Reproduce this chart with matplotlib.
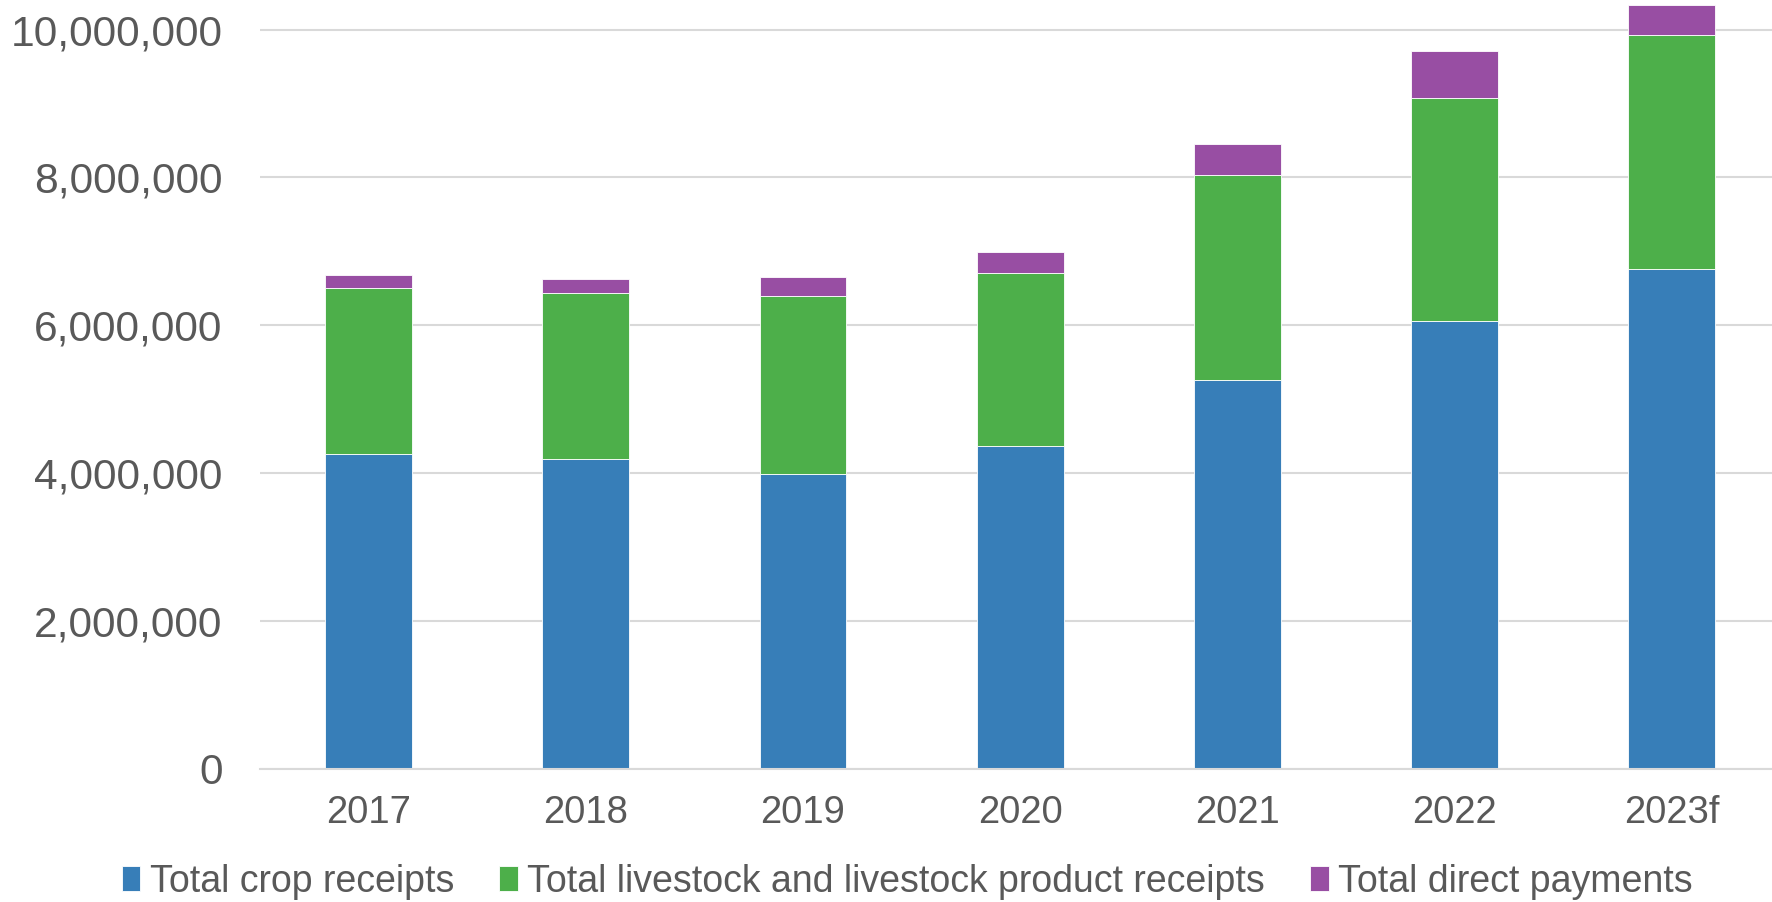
import matplotlib
matplotlib.use("Agg")
import matplotlib.pyplot as plt
import numpy as np
from matplotlib.ticker import FuncFormatter

# receipts by year
years = ["2017", "2018", "2019", "2020", "2021", "2022", "2023f"]
crop_receipts = [4250000, 4190000, 3990000, 4360000, 5260000, 6060000, 6760000]
livestock_receipts = [2250000, 2250000, 2400000, 2350000, 2770000, 3010000, 3160000]
direct_payments = [180000, 180000, 260000, 280000, 420000, 640000, 410000]

series_labels = [
    "Total crop receipts",
    "Total livestock and livestock product receipts",
    "Total direct payments",
]
series_colors = ["#377EB8", "#4DAF4A", "#984EA3"]

plt.rcParams["font.family"] = ["Liberation Sans", "DejaVu Sans"]
text_color = "#595959"
grid_color = "#D9D9D9"

fig = plt.figure(figsize=(17.72, 9.02), dpi=100)
ax = fig.add_axes([0.1467, 0.148, 0.858, 0.852])

x = np.arange(len(years))
bottom = np.zeros(len(years))
for values, label, color in zip(
    [crop_receipts, livestock_receipts, direct_payments], series_labels, series_colors
):
    ax.bar(x, values, width=0.4, bottom=bottom, color=color, label=label,
           edgecolor="#ffffff", linewidth=0.6, zorder=3)
    bottom += np.array(values)

ax.set_xlim(-0.5, len(years) - 0.5)
ax.set_ylim(0, 10.40e6)
ax.set_yticks(np.arange(0, 10.5e6, 2e6))
ax.yaxis.set_major_formatter(FuncFormatter(lambda v, _: f"{v:,.0f}"))
ax.set_xticks(x)
ax.set_xticklabels(years)

ax.grid(axis="y", color=grid_color, linewidth=1.5, zorder=0)
for side in ["top", "right", "left"]:
    ax.spines[side].set_visible(False)
ax.spines["bottom"].set_color(grid_color)
ax.spines["bottom"].set_linewidth(1.5)
ax.spines["bottom"].set_zorder(4)

ax.tick_params(axis="y", length=0, labelsize=30.6, labelcolor=text_color, pad=27)
ax.tick_params(axis="x", length=0, labelsize=27.5, labelcolor=text_color, pad=19)

ax.legend(loc="center", bbox_to_anchor=(0.512, 0.022), bbox_transform=fig.transFigure,
          ncol=3, frameon=False, fontsize=27, handlelength=0.5, handleheight=0.65,
          handletextpad=0.25, columnspacing=1.2, labelcolor=text_color)

fig.savefig("out.png", dpi=100)
